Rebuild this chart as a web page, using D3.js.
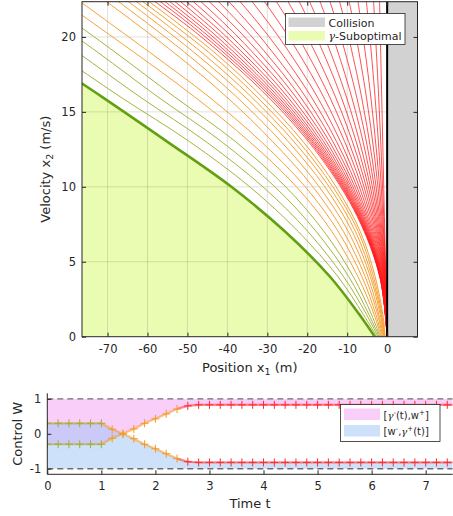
<!DOCTYPE html>
<html>
<head>
<meta charset="utf-8">
<script src="https://cdn.jsdelivr.net/npm/d3@7"></script>
<style>
body{margin:0;background:#fff;}
text{font-family:"DejaVu Sans",sans-serif;fill:#262626;}
</style>
</head>
<body>
<svg id="chart" width="453" height="516"></svg>
<script>
// ---- phase plot data (position x1 read at fixed velocity levels) ----
var velLevels=[0,1.5,4,7,10,13,16,19,22.5];
var boundaryX=[-3.1,-7.0,-14.3,-25.5,-39.0,-55.0,-71.4,-88.4,-108];
var oliveX=[
    [-2.6,-6.0,-12.3,-22.2,-34.4,-49.4,-66.8,-83.3,-102.5],
    [-2.3,-5.2,-10.9,-19.8,-31.1,-45.3,-61.9,-77.7,-96.5],
    [-2.0,-4.6,-9.6,-17.7,-28.1,-41.4,-57.4,-72.6,-91.0],
    [-1.75,-3.95,-8.45,-15.75,-25.4,-37.9,-53.2,-68.2,-86.3]
];
var orangeX=[
    [-1.5,-3.3,-7.3,-13.8,-22.7,-34.4,-48.2,-63.5,-82.0],
    [-1.3,-2.85,-6.3,-12.2,-20.5,-31.5,-44.6,-59.6,-77.6],
    [-1.1,-2.4,-5.5,-10.9,-18.6,-28.6,-40.2,-53.6,-71.0],
    [-0.9,-2.1,-4.8,-9.7,-17.0,-26.5,-37.7,-50.8,-68.0],
    [-0.8,-1.75,-4.2,-8.7,-15.6,-24.7,-35.6,-48.5,-65.5],
    [-0.7,-1.5,-3.8,-7.9,-14.5,-23.3,-34.0,-46.6,-63.5],
    [-0.6,-1.3,-3.4,-7.2,-13.6,-22.1,-32.6,-44.8,-61.9],
    [-0.5,-1.1,-3.0,-6.7,-12.8,-21.0,-31.3,-43.4,-60.3]
];
var redLevels=[0,4,8,12,16,20,22.5];
var redX=[
    [0,-1.86,-7.44,-16.75,-29.77,-46.52,-58.88],
    [0,-1.82,-7.28,-16.39,-29.11,-45.49,-57.56],
    [0,-1.79,-7.14,-16.05,-28.51,-44.53,-56.35],
    [0,-1.76,-7.00,-15.72,-27.90,-43.57,-55.13],
    [0,-1.72,-6.84,-15.35,-27.24,-42.53,-53.81],
    [0,-1.69,-6.67,-14.96,-26.53,-41.42,-52.39],
    [0,-1.65,-6.49,-14.54,-25.78,-40.22,-50.87],
    [0,-1.60,-6.29,-14.06,-24.92,-38.86,-49.15],
    [0,-1.55,-6.06,-13.53,-23.96,-37.35,-47.22],
    [0,-1.49,-5.80,-12.94,-22.89,-35.67,-45.09],
    [0,-1.43,-5.53,-12.30,-21.73,-33.84,-42.76],
    [0,-1.36,-5.21,-11.57,-20.42,-31.77,-40.13],
    [0,-1.28,-4.88,-10.79,-19.00,-29.53,-37.29],
    [0,-1.20,-4.52,-9.95,-17.49,-27.14,-34.25],
    [0,-1.12,-4.14,-9.08,-15.92,-24.67,-31.11],
    [0,-1.04,-3.78,-8.24,-14.40,-22.28,-28.07],
    [0,-0.96,-3.43,-7.43,-12.94,-19.96,-25.13],
    [0,-0.88,-3.10,-6.65,-11.52,-17.73,-22.29],
    [0,-0.81,-2.79,-5.92,-10.21,-15.66,-19.65],
    [0,-0.74,-2.47,-5.19,-8.89,-13.58,-17.01],
    [0,-0.67,-2.17,-4.49,-7.63,-11.59,-14.48],
    [0,-0.61,-1.88,-3.82,-6.41,-9.67,-12.04],
    [0,-0.55,-1.59,-3.15,-5.20,-7.76,-9.61],
    [0,-0.49,-1.33,-2.53,-4.09,-6.01,-7.38],
    [0,-0.43,-1.08,-1.94,-3.03,-4.33,-5.25],
    [0,-0.38,-0.86,-1.44,-2.12,-2.90,-3.43],
    [0,-0.34,-0.68,-1.02,-1.36,-1.70,-1.91]
];
var posTicks=[-70,-60,-50,-40,-30,-20,-10,0];
var velTicks=[0,5,10,15,20];

// ---- control plot data ----
var timeT=[0,0.2,0.4,0.6,0.8,1.0,1.2,1.4,1.6,1.8,2.0,2.2,2.4,2.6,2.8,3.0,3.2,3.4,3.6,3.8,
    4.0,4.2,4.4,4.6,4.8,5.0,5.2,5.4,5.6,5.8,6.0,6.2,6.4,6.6,6.8,7.0,7.2,7.4];
var gammaPlus=[0.3,0.3,0.3,0.3,0.3,0.3,0.13,0.0,-0.14,-0.3,-0.43,-0.57,-0.71,-0.8,
    -0.82,-0.82,-0.82,-0.82,-0.82,-0.82,-0.82,-0.82,-0.82,-0.82,-0.82,-0.82,-0.82,-0.82,
    -0.82,-0.82,-0.82,-0.82,-0.82,-0.82,-0.82,-0.82,-0.82,-0.82];
var gammaMinus=[-0.3,-0.3,-0.3,-0.3,-0.3,-0.3,-0.13,0.0,0.14,0.3,0.43,0.57,0.71,0.8,
    0.83,0.83,0.83,0.83,0.83,0.83,0.83,0.83,0.83,0.83,0.83,0.83,0.83,0.83,
    0.83,0.83,0.83,0.83,0.83,0.83,0.83,0.83,0.83,0.83];
var wMin=-1, wMax=1;
var phaseEnds=[1.0,2.5];
var timeTicks=[0,1,2,3,4,5,6,7];
var wTicks=[-1,0,1];

var svg=d3.select('#chart');
var fmt=function(d){return String(d);};

// ================= top plot =================
var xs=d3.scaleLinear().domain([-76.4,7.6]).range([82,417.5]);
var ys=d3.scaleLinear().domain([0,22.35]).range([336.7,1.7]);

svg.append('clipPath').attr('id','clipTop').append('rect')
    .attr('x',xs(-76.4)).attr('y',ys(22.35))
    .attr('width',xs(7.6)-xs(-76.4)).attr('height',ys(0)-ys(22.35));

var topG=svg.append('g').attr('clip-path','url(#clipTop)');

function pts(levels,arr){
    return levels.map(function(v,i){return [arr[i],v];});
}
var line=d3.line().x(function(d){return xs(d[0]);}).y(function(d){return ys(d[1]);})
    .curve(d3.curveCatmullRom);

// suboptimal region
topG.append('path')
    .datum(pts(velLevels,boundaryX))
    .attr('fill','#eafcb1')
    .attr('d',d3.area().x(function(d){return xs(d[0]);}).y0(ys(0))
        .y1(function(d){return ys(d[1]);}).curve(d3.curveCatmullRom));

// grid
topG.selectAll('.gx').data(posTicks.slice(0,-1)).enter().append('line')
    .attr('x1',function(d){return xs(d);}).attr('x2',function(d){return xs(d);})
    .attr('y1',ys(0)).attr('y2',ys(22.35))
    .style('stroke','#000').style('stroke-opacity',0.12);
topG.selectAll('.gy').data(velTicks.slice(1)).enter().append('line')
    .attr('y1',function(d){return ys(d);}).attr('y2',function(d){return ys(d);})
    .attr('x1',xs(-76.4)).attr('x2',xs(7.6))
    .style('stroke','#000').style('stroke-opacity',0.12);

// collision region
topG.append('rect')
    .attr('x',xs(0)).attr('y',ys(22.35))
    .attr('width',xs(7.6)-xs(0)).attr('height',ys(0)-ys(22.35))
    .attr('fill','#d2d2d2');

topG.selectAll('.olive').data(oliveX).enter().append('path')
    .attr('d',function(d){return line(pts(velLevels,d));})
    .attr('fill','none').style('stroke','#a6b33c').style('stroke-width',1);
topG.selectAll('.orange').data(orangeX).enter().append('path')
    .attr('d',function(d){return line(pts(velLevels,d));})
    .attr('fill','none').style('stroke','#f4a136').style('stroke-width',1);
topG.selectAll('.red').data(redX).enter().append('path')
    .attr('d',function(d){return line(pts(redLevels,d));})
    .attr('fill','none').style('stroke','#ff1a1a').style('stroke-width',0.9)
    .style('stroke-opacity',0.85);
topG.append('path')
    .attr('d',line(pts(velLevels,boundaryX)))
    .attr('fill','none').style('stroke','#62a012').style('stroke-width',2.6);
topG.append('line')
    .attr('x1',xs(0)).attr('x2',xs(0)).attr('y1',ys(0)).attr('y2',ys(22.35))
    .style('stroke','#000').style('stroke-width',2);

// axes
function styleAxis(g){
    g.select('.domain').remove();
    g.selectAll('.tick line').style('stroke','#262626');
    g.selectAll('.tick text').style('font-size','11.5px').style('fill','#262626')
        .style('font-family','"DejaVu Sans",sans-serif');
}
svg.append('g').attr('transform','translate(0,'+ys(0)+')')
    .call(d3.axisBottom(xs).tickValues(posTicks).tickFormat(fmt).tickSize(-4).tickPadding(8))
    .call(styleAxis);
svg.append('g').attr('transform','translate(0,'+ys(22.35)+')')
    .call(d3.axisTop(xs).tickValues(posTicks).tickFormat('').tickSize(-4))
    .call(styleAxis);
svg.append('g').attr('transform','translate('+xs(-76.4)+',0)')
    .call(d3.axisLeft(ys).tickValues(velTicks).tickFormat(fmt).tickSize(-4).tickPadding(6))
    .call(styleAxis);
svg.append('g').attr('transform','translate('+xs(7.6)+',0)')
    .call(d3.axisRight(ys).tickValues(velTicks).tickFormat('').tickSize(-4))
    .call(styleAxis);
svg.append('rect')
    .attr('x',xs(-76.4)).attr('y',ys(22.35))
    .attr('width',xs(7.6)-xs(-76.4)).attr('height',ys(0)-ys(22.35))
    .attr('fill','none').style('stroke','#262626').style('stroke-width',1);

// labels
var xl=svg.append('text').attr('x',(xs(-76.4)+xs(7.6))/2).attr('y',372)
    .attr('text-anchor','middle').style('font-size','13px');
xl.append('tspan').text('Position x');
xl.append('tspan').attr('dy',3).style('font-size','9.5px').text('1');
xl.append('tspan').attr('dy',-3).text(' (m)');

var yl=svg.append('text')
    .attr('transform','translate(50,'+((ys(0)+ys(22.35))/2)+') rotate(-90)')
    .attr('text-anchor','middle').style('font-size','13px');
yl.append('tspan').text('Velocity x');
yl.append('tspan').attr('dy',3).style('font-size','9.5px').text('2');
yl.append('tspan').attr('dy',-3).text(' (m/s)');

// legend
var lg=svg.append('g');
lg.append('rect').attr('x',285.5).attr('y',13.5).attr('width',119.5).attr('height',31)
    .attr('fill','#fff').style('stroke','#262626').style('stroke-width',0.8);
lg.append('rect').attr('x',288.5).attr('y',17.5).attr('width',36.5).attr('height',9.5).attr('fill','#d2d2d2');
lg.append('rect').attr('x',288.5).attr('y',31).attr('width',36.5).attr('height',9.5).attr('fill','#eafcb1');
lg.append('text').attr('x',328.5).attr('y',26.5).style('font-size','11px').text('Collision');
var lt=lg.append('text').attr('x',328.5).attr('y',40).style('font-size','11px');
lt.append('tspan').style('font-style','italic').style('font-family','"DejaVu Serif",serif').text('γ');
lt.append('tspan').text('-Suboptimal');

// ================= bottom plot =================
var xb=d3.scaleLinear().domain([0,7.5]).range([47.3,452.7]);
var yb=d3.scaleLinear().domain([-1.16,1.16]).range([474.3,393.3]);

svg.append('clipPath').attr('id','clipBot').append('rect')
    .attr('x',xb(0)).attr('y',yb(1.16)).attr('width',xb(7.5)-xb(0)).attr('height',yb(-1.16)-yb(1.16));
var botG=svg.append('g').attr('clip-path','url(#clipBot)');

var ctrl=timeT.map(function(t,i){return {t:t,up:gammaPlus[i],lo:gammaMinus[i]};});
var lastC=ctrl[ctrl.length-1];
var ctrlExt=ctrl.concat([{t:7.5,up:lastC.up,lo:lastC.lo}]);

botG.append('path').datum(ctrlExt)
    .attr('d',d3.area().x(function(d){return xb(d.t);}).y0(yb(wMax)).y1(function(d){return yb(d.lo);}))
    .attr('fill','rgb(244,158,244)').attr('fill-opacity',0.5);
botG.append('path').datum(ctrlExt)
    .attr('d',d3.area().x(function(d){return xb(d.t);}).y0(yb(wMin)).y1(function(d){return yb(d.up);}))
    .attr('fill','rgb(158,196,246)').attr('fill-opacity',0.5);

botG.selectAll('.bound').data([wMin,wMax]).enter().append('line')
    .attr('x1',xb(0)).attr('x2',xb(7.5))
    .attr('y1',function(d){return yb(d);}).attr('y2',function(d){return yb(d);})
    .style('stroke','#6e6e6e').style('stroke-width',1.4).style('stroke-dasharray','6,4');

function phaseColor(t){
    if(t<=phaseEnds[0]+1e-9) return '#a8ab2e';
    if(t<=phaseEnds[1]) return '#f39a25';
    return '#ff2b2b';
}
['up','lo'].forEach(function(key){
    for(var i=1;i<ctrlExt.length;i++){
        botG.append('line')
            .attr('x1',xb(ctrlExt[i-1].t)).attr('y1',yb(ctrlExt[i-1][key]))
            .attr('x2',xb(ctrlExt[i].t)).attr('y2',yb(ctrlExt[i][key]))
            .style('stroke',phaseColor(ctrlExt[i].t)).style('stroke-width',2.2).style('stroke-opacity',0.55);
    }
    ctrl.forEach(function(d){
        var cx=xb(d.t), cy=yb(d[key]), c=phaseColor(d.t);
        botG.append('line').attr('x1',cx-4).attr('x2',cx+4).attr('y1',cy).attr('y2',cy).style('stroke',c);
        botG.append('line').attr('x1',cx).attr('x2',cx).attr('y1',cy-4).attr('y2',cy+4).style('stroke',c);
    });
});

svg.append('g').attr('transform','translate(0,'+yb(-1.16)+')')
    .call(d3.axisBottom(xb).tickValues(timeTicks).tickFormat(fmt).tickSize(-4).tickPadding(8))
    .call(styleAxis);
svg.append('g').attr('transform','translate('+xb(0)+',0)')
    .call(d3.axisLeft(yb).tickValues(wTicks).tickFormat(fmt).tickSize(-4).tickPadding(6))
    .call(styleAxis);
svg.append('line').attr('x1',xb(0)).attr('x2',xb(7.5)).attr('y1',yb(-1.16)).attr('y2',yb(-1.16))
    .style('stroke','#262626');
svg.append('line').attr('x1',xb(0)).attr('x2',xb(0)).attr('y1',yb(-1.16)).attr('y2',yb(1.16))
    .style('stroke','#262626');

svg.append('text').attr('x',(xb(0)+xb(7.5))/2).attr('y',508).attr('text-anchor','middle')
    .style('font-size','13px').text('Time t');
svg.append('text').attr('transform','translate(22,'+((yb(-1.16)+yb(1.16))/2)+') rotate(-90)')
    .attr('text-anchor','middle').style('font-size','13px').text('Control W');

// bottom legend
var bl=svg.append('g');
bl.append('rect').attr('x',340.5).attr('y',404.5).attr('width',99.5).attr('height',37)
    .attr('fill','#fff').style('stroke','#262626').style('stroke-width',0.8);
bl.append('rect').attr('x',344).attr('y',408.5).attr('width',36).attr('height',11.5)
    .attr('fill','rgb(244,158,244)').attr('fill-opacity',0.5);
bl.append('rect').attr('x',344).attr('y',425).attr('width',36).attr('height',11.5)
    .attr('fill','rgb(158,196,246)').attr('fill-opacity',0.5);
function legendLabel(y,parts){
    var t=bl.append('text').attr('x',383.5).attr('y',y).style('font-size','10px');
    parts.forEach(function(p){
        var s=t.append('tspan').text(p[0]);
        if(p[1]=='sup') s.attr('dy',-4).style('font-size','7px');
        if(p[1]=='back') s.attr('dy',4);
        if(p[1]=='g') s.style('font-style','italic').style('font-family','"DejaVu Serif",serif');
    });
}
legendLabel(418.5,[['[',''],['γ','g'],['-','sup'],['(t),w','back'],['+','sup'],[']','back']]);
legendLabel(435,[['[w',''],['-','sup'],[',','back'],['γ','g'],['+','sup'],['(t)]','back']]);
</script>
</body>
</html>
